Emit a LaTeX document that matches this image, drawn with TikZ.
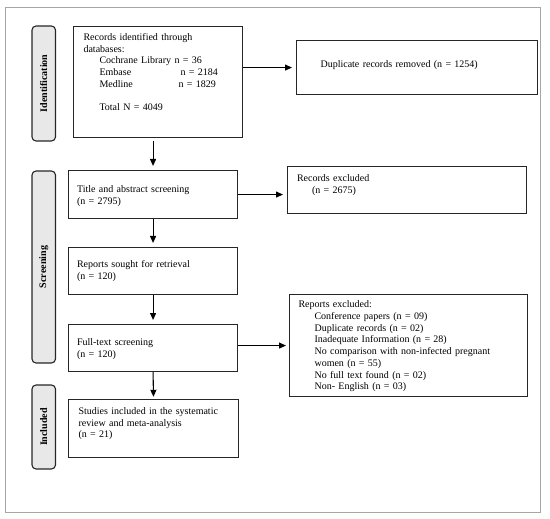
\documentclass[tikz,border=0pt]{standalone}
\usepackage{fontspec}
\setmainfont{Liberation Serif}
\usetikzlibrary{arrows.meta}

\begin{document}
\begin{tikzpicture}[x=1pt, y=-1pt,
    box/.style={draw=black!85, line width=1.1pt, anchor=north west, align=left,
        inner ysep=0pt, font=\fontsize{10}{11.7}\selectfont},
    tab/.style={draw=black!85, line width=1.1pt, rounded corners=4pt, fill=gray!18,
        rotate=90, minimum height=23.5pt, inner sep=0pt,
        font=\bfseries\fontsize{10}{12}\selectfont},
    arrow/.style={line width=1.1pt, -{Triangle[length=7pt,width=6pt]}, shorten >=4pt}]

    \useasboundingbox (0, 0) rectangle (550, 519);
    \draw[gray!70, line width=0.8pt] (5, 7) rectangle (540, 512);

    % phase tabs
    \node[tab, minimum width=115pt] (identification) at (43.75, 83.5) {Identification};
    \node[tab, minimum width=192pt] (screening) at (43.75, 267) {Screening};
    \node[tab, minimum width=84pt] (included) at (43.75, 427) {Included};

    % main column
    \node[box, inner xsep=10pt, text width=149pt, text height=14pt, text depth=97pt]
        (records) at (73, 26) {Records identified through\\
        databases:\\
        \hspace*{16pt}\makebox[75pt][l]{Cochrane Library}n = 36\\
        \hspace*{16pt}\makebox[81pt][l]{Embase}n = 2184\\
        \hspace*{16pt}\makebox[79pt][l]{Medline}n = 1829\\[11.7pt]
        \hspace*{16pt}Total N = 4049};
    \node[box, inner xsep=8.5pt, text width=152pt, text height=22pt, text depth=26pt]
        (title) at (68, 170) {Title and abstract screening\\(n = 2795)};
    \node[box, inner xsep=8.5pt, text width=152pt, text height=20.3pt, text depth=26.7pt]
        (sought) at (68, 247) {Reports sought for retrieval\\(n = 120)};
    \node[box, inner xsep=8.5pt, text width=152pt, text height=21.3pt, text depth=25.7pt]
        (fulltext) at (68, 324) {Full-text screening\\(n = 120)};
    \node[box, inner xsep=10pt, text width=150pt, text height=14.7pt, text depth=42.7pt]
        (studies) at (68, 399.3) {Studies included in the systematic\\
        review and meta-analysis\\(n = 21)};

    % side column
    \node[box, inner xsep=24pt, text width=193pt, text height=26.5pt, text depth=27.5pt]
        (duplicates) at (296, 40) {Duplicate records removed (n = 1254)};
    \node[box, inner xsep=9.5pt, text width=220pt, text height=15.3pt, text depth=31.7pt]
        (excluded) at (287, 166) {Records excluded\\\hspace*{15pt}(n = 2675)};
    \node[box, inner xsep=9pt, text width=220pt, text height=13.3pt, text depth=88.7pt]
        (repexcluded) at (289, 294) {Reports excluded:\\
        \hspace*{16pt}Conference papers (n = 09)\\
        \hspace*{16pt}Duplicate records (n = 02)\\
        \hspace*{16pt}Inadequate Information (n = 28)\\
        \hspace*{16pt}No comparison with non-infected pregnant\\
        \hspace*{16pt}women (n = 55)\\
        \hspace*{16pt}No full text found (n = 02)\\
        \hspace*{16pt}Non- English (n = 03)};

    % arrows
    \draw[arrow, shorten <=3pt] (records.south -| title.north) -- (title.north);
    \draw[arrow] (title.south) -- (sought.north);
    \draw[arrow] (sought.south) -- (fulltext.north);
    \draw[arrow, shorten >=2.5pt] (fulltext.south) -- (studies.north);
    \draw[arrow] (duplicates.west -| records.east) -- (duplicates.west);
    \draw[arrow] (title.east) -- (title.east -| excluded.west);
    \draw[arrow, shorten >=3pt] (repexcluded.west -| fulltext.east) -- (repexcluded.west);
\end{tikzpicture}
\end{document}
